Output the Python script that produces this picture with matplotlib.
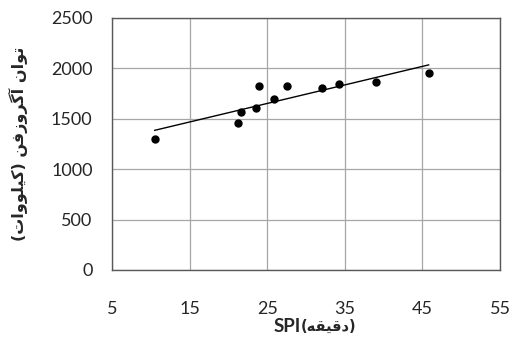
import numpy as np
import matplotlib
matplotlib.use('Agg')
import matplotlib.pyplot as plt

# data
spi_minutes = [10.5, 21.3, 21.6, 23.6, 24.0, 25.9, 27.6, 32.1, 34.3, 39.0, 45.8]
power_kw = [1300, 1455, 1568, 1604, 1822, 1697, 1822, 1809, 1849, 1862, 1951]
x_ticks = [5, 15, 25, 35, 45, 55]
y_ticks = [0, 500, 1000, 1500, 2000, 2500]

# presentation forms (isolated, final, initial, medial) - matplotlib does no arabic shaping
FORMS = {
    'ت': ('\uFE95', '\uFE96', '\uFE97', '\uFE98'),
    'ن': ('\uFEE5', '\uFEE6', '\uFEE7', '\uFEE8'),
    'ف': ('\uFED1', '\uFED2', '\uFED3', '\uFED4'),
    'ق': ('\uFED5', '\uFED6', '\uFED7', '\uFED8'),
    'ل': ('\uFEDD', '\uFEDE', '\uFEDF', '\uFEE0'),
    'ه': ('\uFEE9', '\uFEEA', '\uFEEB', '\uFEEC'),
    'ک': ('\uFB8E', '\uFB8F', '\uFB90', '\uFB91'),
    'گ': ('\uFB92', '\uFB93', '\uFB94', '\uFB95'),
    'ی': ('\uFBFC', '\uFBFD', '\uFBFE', '\uFBFF'),
    'و': ('\uFEED', '\uFEEE', None, None),
    'ا': ('\uFE8D', '\uFE8E', None, None),
    'آ': ('\uFE81', '\uFE82', None, None),
    'ر': ('\uFEAD', '\uFEAE', None, None),
    'ز': ('\uFEAF', '\uFEB0', None, None),
    'د': ('\uFEA9', '\uFEAA', None, None),
}


def shape(word):
    """Join the letters of one word and return it in visual (left to right) order."""
    out = []
    for i, ch in enumerate(word):
        iso, fin, ini, med = FORMS[ch]
        prev_joins = i > 0 and FORMS[word[i - 1]][2] is not None
        next_joins = i < len(word) - 1 and ini is not None
        if prev_joins and next_joins:
            out.append(med)
        elif prev_joins:
            out.append(fin)
        elif next_joins:
            out.append(ini)
        else:
            out.append(iso)
    return ''.join(reversed(out))


y_label = '(' + shape('کیلووات') + ') ' + shape('آگروزفن') + ' ' + shape('توان')
x_label_fa = '(' + shape('دقیقه') + ')'

fig = plt.figure(figsize=(5.15, 3.39), dpi=100)
ax = fig.add_axes([112 / 515, 1 - 270 / 339, 388 / 515, 252 / 339])

ax.plot(spi_minutes, power_kw, 'o', color='black', markersize=5, zorder=3)

# linear trendline
slope, intercept = np.polyfit(spi_minutes, power_kw, 1)
xs = np.array([min(spi_minutes), max(spi_minutes)])
ax.plot(xs, slope * xs + intercept, color='black', linewidth=1.0, zorder=2)

ax.set_xlim(5, 55)
ax.set_ylim(0, 2500)
ax.set_xticks(x_ticks)
ax.set_yticks(y_ticks)
ax.grid(True, color='#a6a6a6', linewidth=0.9)
ax.set_axisbelow(True)
for s in ax.spines.values():
    s.set_color('#595959')
    s.set_linewidth(1.0)
ax.tick_params(length=0, labelsize=13, labelcolor='#262626')
ax.tick_params(axis='x', pad=22)
ax.tick_params(axis='y', pad=14)
for lab in ax.get_xticklabels() + ax.get_yticklabels():
    lab.set_family('Lato')

fig.text(18 / 515, 1 - 144 / 339, y_label, rotation=90, ha='center', va='center',
         fontsize=11.5, family='DejaVu Sans', weight='bold', color='#262626')
fig.text(301 / 515, 1 - 326 / 339, 'SPI', ha='right', va='center',
         fontsize=13.5, family='Lato', weight='bold', color='#262626')
fig.text(301 / 515, 1 - 326 / 339, x_label_fa, ha='left', va='center',
         fontsize=10.5, family='DejaVu Sans', weight='bold', color='#262626')

fig.savefig('out.png', dpi=100)
